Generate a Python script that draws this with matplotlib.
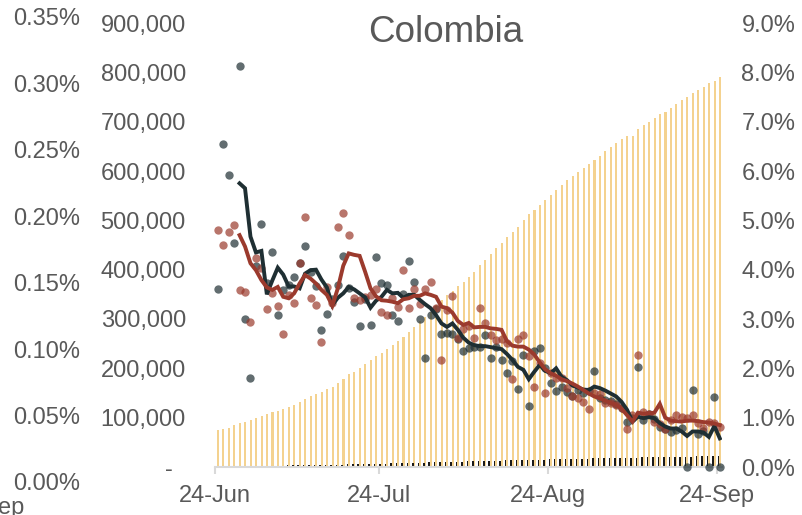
"""
Colombia - daily values with rolling averages and cumulative bars.
Output: out.png
"""
import numpy as np
import pandas as pd
import matplotlib
matplotlib.use('Agg')
import matplotlib.pyplot as plt
import matplotlib.dates as mdates
from matplotlib.ticker import FuncFormatter

plt.rcParams['font.family'] = ['Liberation Sans', 'DejaVu Sans']

TXT = '#595959'
AXIS_GREY = '#D9D9D9'
DARK = '#1F2F33'
RED = '#9B3A2D'
YELLOW = '#F0C060'

# ── data (thousands for the daily series, percent for the bars) ──────────────
dates = pd.date_range('2020-06-24', periods=93, freq='D')

grey_dots_k = [
    360, 654, 592, 455, 813, 301, 181, 407, 493, 372,
    436, 308, 359, 368, 385, 413, 447, 395, 366, 278,
    310, 340, 369, 428, 362, 335, 286, 340, 288, 426,
    372, 369, 308, 295, 350, 418, 376, 300, 221, 308,
    320, 269, 271, 270, 259, 236, 241, 243, 243, 268,
    220, 244, 217, 191, 215, 158, 228, 124, 236, 241,
    200, 170, 155, 163, 153, 143, 156, 150, 155, 195,
    140, 135, 133, 128, 119, 92, 100, 203, 95, 107,
    97, 82, 78, 70, 75, 80, 0, 156, 67, 72,
    0, 141, 0,
]

red_dots_k = [
    480, 451, 476, 491, 359, 355, 293, 423, 403, 320,
    352, 327, 270, 349, 332, 413, 507, 343, 328, 253,
    364, 332, 486, 515, 470, 342, 338, 345, 349, 360,
    315, 308, 342, 325, 399, 323, 360, 330, 360, 376,
    322, 217, 318, 347, 261, 280, 285, 261, 322, 292,
    268, 257, 259, 252, 178, 259, 268, 225, 162, 210,
    149, 190, 180, 180, 160, 143, 139, 132, 117, 150,
    148, 129, 129, 126, 119, 78, 105, 227, 112, 108,
    92, 88, 78, 95, 105, 101, 100, 105, 89, 80,
    92, 89, 82,
]

# rolling averages start on the 5th day
LINE_START = 4
grey_avg_k = [
    575, 565, 467, 435, 438, 350, 378, 404, 390, 366,
    366, 362, 392, 399, 400, 380, 364, 328, 343, 352,
    365, 360, 352, 344, 323, 337, 345, 359, 352, 353,
    343, 349, 349, 339, 330, 322, 308, 291, 284, 291,
    278, 262, 252, 247, 245, 245, 243, 241, 239, 229,
    217, 203, 197, 178, 193, 207, 195, 190, 200, 183,
    176, 165, 161, 157, 156, 163, 160, 155, 149, 143,
    132, 116, 92, 102, 99, 101, 99, 89, 82, 78,
    78, 72, 63, 72, 72, 70, 61, 83, 58,
]
red_avg_k = [
    470, 447, 413, 399, 379, 364, 359, 365, 345, 342,
    352, 372, 389, 382, 372, 359, 349, 327, 362, 408,
    433, 430, 428, 396, 362, 346, 338, 337, 335, 332,
    340, 342, 347, 347, 352, 349, 345, 325, 322, 313,
    296, 288, 292, 283, 284, 284, 281, 280, 278, 255,
    246, 244, 244, 238, 228, 212, 198, 190, 185, 178,
    174, 169, 163, 156, 149, 143, 139, 135, 130, 126,
    118, 105, 92, 110, 108, 109, 110, 128, 100, 94,
    93, 92, 94, 94, 93, 91, 90, 88, 85,
]

yellow_pct = [
    0.75, 0.77, 0.80, 0.85, 0.89, 0.92, 0.95, 0.99, 1.03, 1.07,
    1.11, 1.14, 1.18, 1.21, 1.26, 1.31, 1.37, 1.43, 1.48, 1.53,
    1.58, 1.63, 1.71, 1.78, 1.89, 1.93, 2.00, 2.09, 2.17, 2.25,
    2.32, 2.39, 2.47, 2.55, 2.64, 2.74, 2.84, 2.95, 3.05, 3.15,
    3.28, 3.39, 3.49, 3.57, 3.66, 3.76, 3.86, 3.96, 4.09, 4.20,
    4.32, 4.43, 4.55, 4.67, 4.77, 4.87, 5.01, 5.12, 5.21, 5.31,
    5.41, 5.51, 5.62, 5.72, 5.82, 5.90, 5.98, 6.06, 6.14, 6.22,
    6.31, 6.41, 6.48, 6.57, 6.65, 6.71, 6.71, 6.85, 6.93, 7.00,
    7.08, 7.15, 7.20, 7.27, 7.36, 7.43, 7.51, 7.58, 7.64, 7.71,
    7.78, 7.83, 7.91,
]

dark_pct = [
    0.02, 0.02, 0.02, 0.02, 0.02, 0.02, 0.03, 0.03, 0.03, 0.03,
    0.03, 0.03, 0.03, 0.04, 0.04, 0.04, 0.04, 0.04, 0.04, 0.05,
    0.05, 0.05, 0.05, 0.05, 0.06, 0.06, 0.06, 0.06, 0.07, 0.07,
    0.07, 0.07, 0.08, 0.08, 0.08, 0.08, 0.09, 0.09, 0.09, 0.10,
    0.10, 0.10, 0.10, 0.11, 0.11, 0.11, 0.12, 0.12, 0.12, 0.12,
    0.13, 0.13, 0.13, 0.14, 0.14, 0.14, 0.14, 0.15, 0.15, 0.15,
    0.15, 0.16, 0.16, 0.16, 0.16, 0.17, 0.17, 0.17, 0.17, 0.18,
    0.18, 0.18, 0.18, 0.19, 0.19, 0.19, 0.19, 0.19, 0.20, 0.20,
    0.20, 0.20, 0.20, 0.21, 0.21, 0.21, 0.21, 0.21, 0.22, 0.22,
    0.22, 0.22, 0.23,
]

tick_dates = ['2020-06-24', '2020-07-24', '2020-08-24', '2020-09-24']

# ── figure ──────────────────────────────────────────────────────────────────
W, H = 803, 515
fig = plt.figure(figsize=(W / 100, H / 100), dpi=100)
fig.patch.set_facecolor('white')


def box(x0, y_top, x1, y_bot):
    return [x0 / W, 1 - y_bot / H, (x1 - x0) / W, (y_bot - y_top) / H]


ax_r = fig.add_axes(box(215, 23, 722, 467))   # percent axis (bars)
ax = ax_r.twinx()                              # daily values (dots, lines)

x_pts = dates + pd.Timedelta(hours=12)
x_line = x_pts[LINE_START:]

ax_r.bar(dates + pd.Timedelta(hours=13), np.array(yellow_pct) / 100,
         width=0.38, color=YELLOW, alpha=0.7, linewidth=0, zorder=1)
ax_r.bar(dates + pd.Timedelta(hours=6), np.array(dark_pct) / 100,
         width=0.28, color='#1A1A1A', linewidth=0, zorder=2)

ax.scatter(x_pts, np.array(grey_dots_k) * 1000, s=36, color=DARK,
           alpha=0.7, linewidths=0, zorder=3, clip_on=False)
ax.scatter(x_pts, np.array(red_dots_k) * 1000, s=36, color=RED,
           alpha=0.7, linewidths=0, zorder=4, clip_on=False)
ax.plot(x_line, np.array(grey_avg_k) * 1000, color=DARK, lw=2.8,
        solid_joinstyle='miter', zorder=5)
ax.plot(x_line, np.array(red_avg_k) * 1000, color=RED, lw=2.8,
        solid_joinstyle='miter', zorder=6)

start = dates[0]
ax_r.set_xlim(start, start + pd.Timedelta(days=92.9))
ax_r.set_ylim(0, 0.09)
ax.set_ylim(0, 900000)

ax_r.set_xticks(pd.to_datetime(tick_dates))
ax_r.xaxis.set_major_formatter(mdates.DateFormatter('%d-%b'))
ax_r.tick_params(axis='x', labelsize=17, labelcolor=TXT, color=AXIS_GREY,
                 length=5, width=1.5, pad=8)

ax.yaxis.tick_left()
ax.set_yticks(np.arange(0, 900001, 100000))
ax.yaxis.set_major_formatter(
    FuncFormatter(lambda v, p: '-  ' if v == 0 else f'{int(v):,}'))
ax.tick_params(axis='y', labelsize=17, labelcolor=TXT, length=0, pad=21)

ax_r.yaxis.tick_right()
ax_r.set_yticks(np.arange(0, 0.0901, 0.01))
ax_r.yaxis.set_major_formatter(FuncFormatter(lambda v, p: f'{v * 100:.1f}%'))
ax_r.tick_params(axis='y', labelsize=17, labelcolor=TXT, length=0, pad=14)

for a in (ax, ax_r):
    for s in a.spines.values():
        s.set_visible(False)
ax_r.spines['bottom'].set_visible(True)
ax_r.spines['bottom'].set_color(AXIS_GREY)
ax_r.spines['bottom'].set_linewidth(1.5)

# outer percentage scale on the far left
ax_o = fig.add_axes(box(84, 17, 85, 482))
ax_o.set_ylim(0, 0.0035)
ax_o.set_yticks(np.arange(0, 0.00351, 0.0005))
ax_o.yaxis.set_major_formatter(FuncFormatter(lambda v, p: f'{v * 100:.2f}%'))
ax_o.tick_params(axis='y', labelsize=17, labelcolor=TXT, length=0, pad=3)
ax_o.set_xticks([])
ax_o.patch.set_visible(False)
for s in ax_o.spines.values():
    s.set_visible(False)

fig.text(446 / W, 1 - 42 / H, 'Colombia', ha='center', va='baseline',
         fontsize=26.5, color=TXT)
# partial label that the source crops at the bottom-left corner
fig.text(-0.002, 1 - 514 / H, 'ep', ha='left', va='baseline',
         fontsize=17, color=TXT)

fig.savefig('out.png', dpi=100)
